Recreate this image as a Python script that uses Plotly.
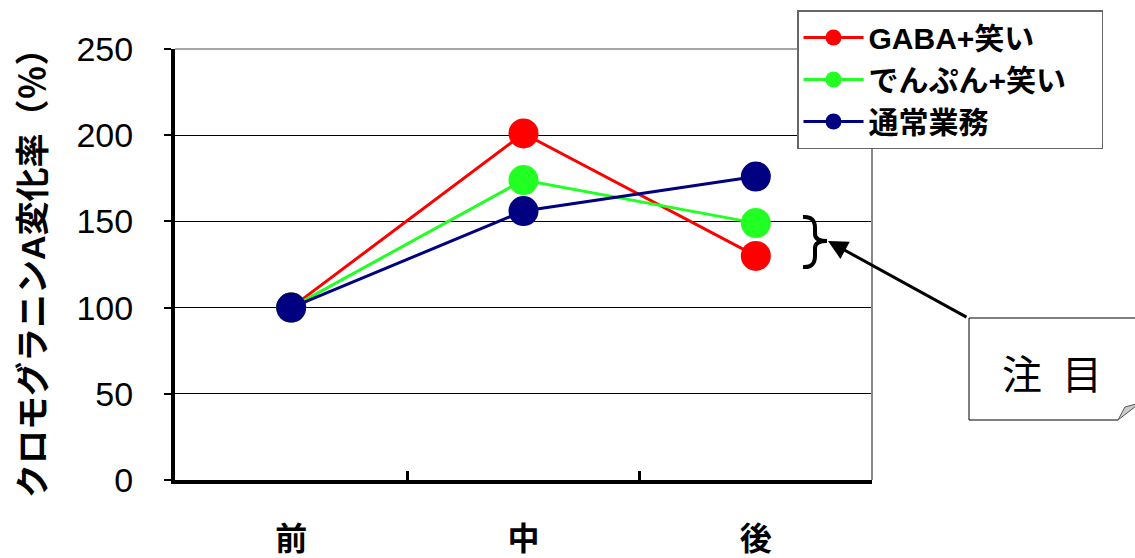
import plotly.graph_objects as go

categories = ["前", "中", "後"]
series_names = ["GABA+笑い", "でんぷん+笑い", "通常業務"]
gaba_values = [100, 201, 130]
starch_values = [100, 174, 149]
normal_values = [100, 156, 176]
y_ticks = [0, 50, 100, 150, 200, 250]
y_title = "クロモグラニンA変化率（％）"
note_text = "注\u2002目"

colors = ["#FF0000", "#22FF22", "#000080"]
W, H = 1135, 558
L, R, T, B = 175, 872, 49, 480


def px_x(x):
    return (x - L) / (R - L)


def px_y(y):
    return (B - y) / (B - T)


JP = "Liberation Sans, Noto Sans CJK JP, sans-serif"

fig = go.Figure()
for i, (name, vals) in enumerate(zip(series_names, [gaba_values, starch_values, normal_values])):
    fig.add_trace(go.Scatter(
        x=categories, y=vals, name="<b>" + name + "</b>\u2003", mode="lines+markers",
        line=dict(color=colors[i], width=3),
        marker=dict(color=colors[i], size=30, line=dict(width=0)),
        legendgroup=str(i),
    ))

shapes = []
# gray top and right border
shapes.append(dict(type="line", xref="paper", yref="paper", x0=0, x1=1, y0=1, y1=1,
                   line=dict(color="#888888", width=1.5)))
shapes.append(dict(type="line", xref="paper", yref="paper", x0=1, x1=1, y0=0, y1=1,
                   line=dict(color="#888888", width=2)))


def P(p):
    return f"{px_x(p[0]):.5f},{px_y(p[1]):.5f}"


# brace
brace_path = (f"M{P((803, 217))} Q{P((815, 216))} {P((815, 228))} L{P((815, 234))} "
              f"Q{P((815, 241))} {P((827, 241))} Q{P((815, 241))} {P((815, 248))} "
              f"L{P((815, 256))} Q{P((815, 268))} {P((803, 267))}")
shapes.append(dict(type="path", xref="paper", yref="paper", path=brace_path,
                   line=dict(color="black", width=4)))
# callout box
box_path = f"M{P((1145, 318))} L{P((969, 318))} L{P((969, 420))} L{P((1118, 420))}"
shapes.append(dict(type="path", xref="paper", yref="paper", path=box_path,
                   line=dict(color="black", width=1)))
fold_path = f"M{P((1118, 420))} L{P((1125, 407))} L{P((1140, 403))} Z"
shapes.append(dict(type="path", xref="paper", yref="paper", path=fold_path,
                   fillcolor="#CCCCCC", line=dict(color="#555555", width=1)))

annotations = [
    dict(xref="paper", yref="paper", x=px_x(828), y=px_y(241), text="", showarrow=True,
         ax=968 - 828, ay=318 - 241, arrowhead=2, arrowsize=1.3, arrowwidth=3, arrowcolor="black"),
    dict(xref="paper", yref="paper", x=px_x(1052), y=px_y(372), text=note_text, showarrow=False,
         xanchor="center", yanchor="middle",
         font=dict(family="Noto Sans CJK JP", size=40, color="black")),
    dict(xref="paper", yref="paper", x=px_x(33), y=px_y(265), text="<b>" + y_title + "</b>",
         xanchor="center", yanchor="middle",
         textangle=-90, showarrow=False, font=dict(family=JP, size=34, color="black")),
]

fig.update_layout(
    width=W, height=H,
    margin=dict(l=L, r=W - R, t=T, b=H - B, autoexpand=False),
    paper_bgcolor="white", plot_bgcolor="white",
    showlegend=True,
    legend=dict(x=px_x(797), y=px_y(10), xanchor="left", yanchor="top",
                bordercolor="#666666", borderwidth=1.5, bgcolor="white",
                font=dict(family=JP, size=30, color="black"),
                tracegroupgap=0, traceorder="grouped", itemwidth=60),
    shapes=shapes, annotations=annotations,
    xaxis=dict(type="category", range=[-0.5, 2.5], tickson="boundaries",
               ticks="inside", ticklen=9, tickwidth=3, tickcolor="black",
               showline=True, linecolor="black", linewidth=4, showgrid=False,
               tickvals=categories, ticktext=["<b>" + c + "</b>" for c in categories],
               tickfont=dict(family=JP, size=32, color="black"), ticklabelstandoff=28,
               automargin=False),
    yaxis=dict(range=[0, 250], tickvals=y_ticks, ticks="outside", ticklen=7, tickwidth=2,
               tickcolor="black", showline=True, linecolor="black", linewidth=4,
               showgrid=True, gridcolor="black", gridwidth=1, zeroline=False,
               tickfont=dict(family="Liberation Sans", size=34, color="black"),
               ticklabelstandoff=24, automargin=False),
)

fig.write_html("out.html", config={"displayModeBar": False},
               post_script="document.body.style.margin='0';")
